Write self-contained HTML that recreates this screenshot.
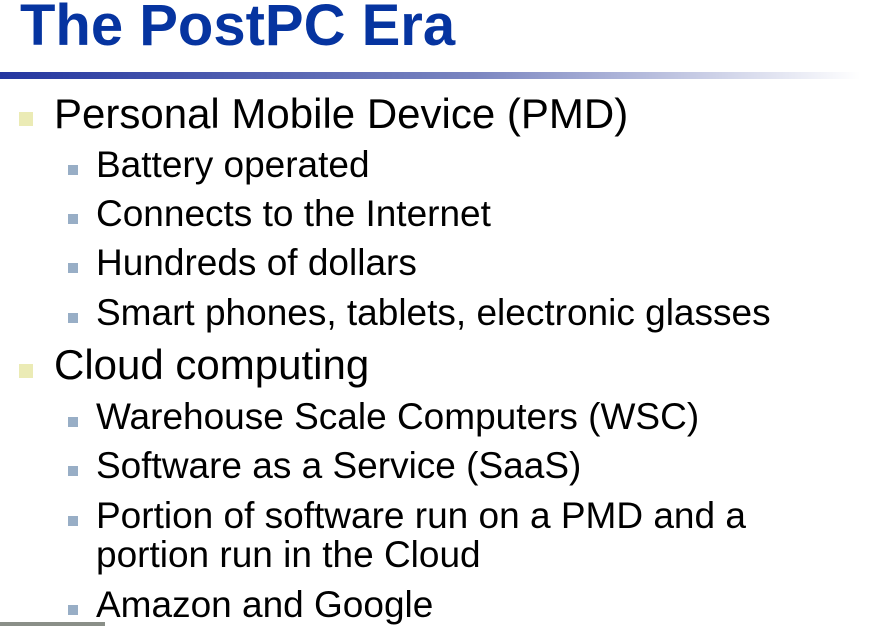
<!DOCTYPE html>
<html><head><style>
body{margin:0;width:880px;height:626px;background:#fff;position:relative;overflow:hidden;font-family:"Liberation Sans",Arial,sans-serif}
.t{position:absolute;left:20px;top:-8px;font-size:58px;font-weight:bold;color:#0634a0;white-space:nowrap}
.bar{position:absolute;left:0;top:72px;width:860px;height:7px;background:linear-gradient(90deg,#2436a0,#7a85c0 55%,#fff)}
.l{position:absolute;white-space:nowrap;color:#000}
.l1{left:54px;font-size:42px}
.l2{left:96px;font-size:37px}
.b1{position:absolute;left:19px;width:14px;height:14px;background:#ebebb5}
.b2{position:absolute;left:68px;width:10px;height:10px;background:#98aec6}
.bot{position:absolute;left:0;top:622px;width:105px;height:4px;background:#8a8f88}
</style></head><body>
<div class="t">The PostPC Era</div>
<div class="bar"></div>
<div class="b1" style="top:112px"></div><div class="l l1" style="top:90px">Personal Mobile Device (PMD)</div>
<div class="b2" style="top:165px"></div><div class="l l2" style="top:144px">Battery operated</div>
<div class="b2" style="top:214px"></div><div class="l l2" style="top:193px">Connects to the Internet</div>
<div class="b2" style="top:263px"></div><div class="l l2" style="top:242px">Hundreds of dollars</div>
<div class="b2" style="top:313px"></div><div class="l l2" style="top:292px">Smart phones, tablets, electronic glasses</div>
<div class="b1" style="top:364px"></div><div class="l l1" style="top:341px">Cloud computing</div>
<div class="b2" style="top:417px"></div><div class="l l2" style="top:396px">Warehouse Scale Computers (WSC)</div>
<div class="b2" style="top:466px"></div><div class="l l2" style="top:445px">Software as a Service (SaaS)</div>
<div class="b2" style="top:516px"></div><div class="l l2" style="top:495px">Portion of software run on a PMD and a</div>
<div class="l l2" style="top:534px">portion run in the Cloud</div>
<div class="b2" style="top:605px"></div><div class="l l2" style="top:584px">Amazon and Google</div>
<div class="bot"></div>
</body></html>
